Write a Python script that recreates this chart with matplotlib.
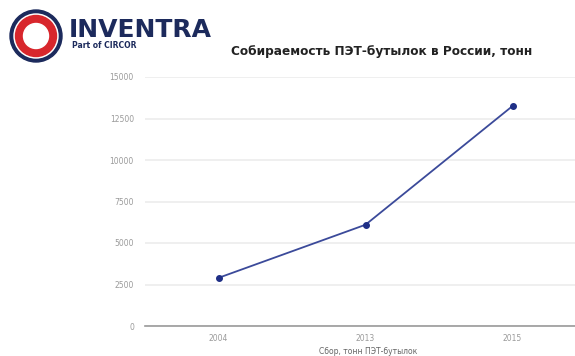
import matplotlib
matplotlib.use("Agg")
import matplotlib.pyplot as plt
from matplotlib.patches import Circle

years = ["2004", "2013", "2015"]
tonnes = [2900, 6100, 13250]
yticks = [0, 2500, 5000, 7500, 10000, 12500, 15000]

W, H = 575, 356
fig = plt.figure(figsize=(W/100, H/100), dpi=100)
fig.patch.set_facecolor("white")

def fx(px): return px / W
def fy(py): return 1 - py / H

ax = fig.add_axes([fx(145), fy(326), fx(586) - fx(145), fy(77) - fy(326)])
x = list(range(len(years)))
ax.plot(x, tonnes, color="#3b4a9a", lw=1.3, marker="o", ms=4,
        markerfacecolor="#1f2f86", markeredgecolor="#1f2f86")
ax.set_xlim(-0.5, 2.5)
ax.set_ylim(0, 15000)
ax.set_yticks(yticks)
ax.set_yticklabels([str(v) for v in yticks], fontsize=5.5, color="#9a9a9a")
ax.set_xticks(x)
ax.set_xticklabels(years, fontsize=5.5, color="#9a9a9a")
ax.tick_params(axis="both", length=0, pad=8)
ax.tick_params(axis="x", pad=6)
ax.grid(axis="y", color="#ececec", lw=1.2)
ax.set_axisbelow(True)
for s in ["top", "right", "left"]:
    ax.spines[s].set_visible(False)
ax.spines["bottom"].set_color("#9a9a9a")
ax.spines["bottom"].set_linewidth(1.2)
ax.set_xlabel("Сбор, тонн ПЭТ-бутылок", fontsize=5.5, color="#666666", labelpad=3)
ax.xaxis.set_label_coords((368 - 145) / (586 - 145), -0.085)

# Title
fig.text(fx(382), fy(52), "Собираемость ПЭТ-бутылок в России, тонн",
         ha="center", va="center", fontsize=8.7, fontweight="bold", color="#222222")

# Logo
lax = fig.add_axes([0, 0, 1, 1], facecolor="none")
lax.set_xlim(0, W); lax.set_ylim(H, 0); lax.axis("off")
lax.set_aspect("auto")
lax.add_patch(Circle((36, 36), 26, color="#1c2a5c"))
lax.add_patch(Circle((36, 36), 22, color="white"))
lax.add_patch(Circle((36, 36), 20.5, color="#d8262c"))
lax.add_patch(Circle((36, 36), 12.5, color="white"))
lax.text(69, 30, "INVENTRA", fontsize=18, fontweight="bold", color="#1c2a5c",
         va="center", ha="left", family="DejaVu Sans")
lax.text(72, 45, "Part of CIRCOR", fontsize=5.5, fontweight="bold", color="#1c2a5c",
         va="center", ha="left", family="DejaVu Sans")

fig.savefig("out.png", dpi=100)
